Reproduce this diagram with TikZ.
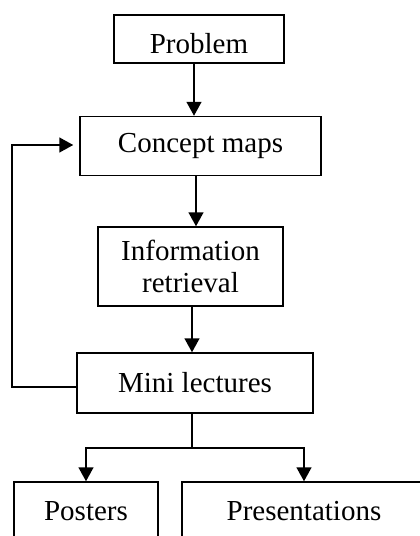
\documentclass[tikz,border=0pt]{standalone}
\usepackage{fontspec}
\setmainfont{Liberation Serif}
\usetikzlibrary{arrows.meta}
\begin{document}
\begin{tikzpicture}[x=1pt,y=-1pt,
  box/.style={draw,line width=1.5pt,inner sep=0pt,align=center,
    font=\fontsize{29}{32}\selectfont},
  conn/.style={line width=1.5pt},
  arr/.style={conn,-{Triangle[width=15pt,length=14pt]}}]
\useasboundingbox (0,0) rectangle (420,536);
\clip (0,0) rectangle (420,536);
\node[box,minimum width=170pt,minimum height=48pt,text height=28pt,text depth=0pt] (prob) at (199,39) {Problem};
\node[box,minimum width=241pt,minimum height=59pt] (cm) at (200.5,146) {Concept maps};
\node[box,minimum width=185pt,minimum height=79pt] (info) at (190.5,266.5) {Information\\retrieval};
\node[box,minimum width=236pt,minimum height=60pt] (mini) at (195,383) {Mini lectures};
\node[box,minimum width=144pt,minimum height=58pt] (post) at (86,511) {Posters};
\node[box,minimum width=244pt,minimum height=58pt] (pres) at (304,511) {Presentations};
\coordinate (fbl) at (12,387);
\coordinate (fbt) at (12,145);
\coordinate (split) at (192,448);
\draw[arr] (prob.south -| 194,0) -- (cm.north -| 194,0);
\draw[arr] (cm.south -| 196,0) -- (info.north -| 196,0);
\draw[arr] (info.south -| 192,0) -- (mini.north -| 192,0);
\draw[arr] (mini.west |- fbl) -- (fbl) -- (fbt) -- ([xshift=-6pt]cm.west |- fbt);
\draw[conn] (mini.south -| split) -- (split);
\draw[arr] (split) -| (post.north -| 86,0);
\draw[arr] (split) -| (pres.north -| 304,0);
\end{tikzpicture}
\end{document}
